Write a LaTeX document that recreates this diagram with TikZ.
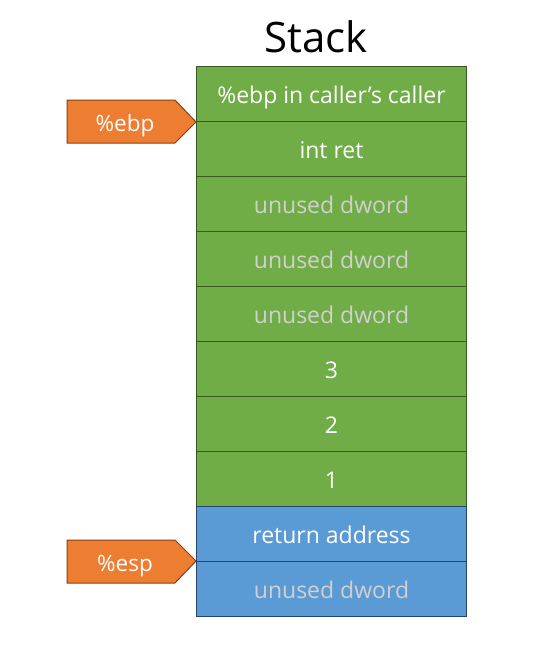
\documentclass[tikz,border=0pt]{standalone}
\usepackage{fontspec}
\setmainfont{Open Sans}
\definecolor{cgreen}{HTML}{70AD47}
\definecolor{cgreenb}{HTML}{3A5A25}
\definecolor{cblue}{HTML}{5B9BD5}
\definecolor{cblueb}{HTML}{24456A}
\definecolor{corange}{HTML}{ED7D31}
\definecolor{coranb}{HTML}{8A3F12}
\definecolor{cgrey}{HTML}{D0D0D0}
\begin{document}
\begin{tikzpicture}[x=1pt,y=-1pt,
  cell/.style={draw=cgreenb,fill=cgreen,line width=1pt,minimum width=270pt,minimum height=55pt,inner sep=0pt,anchor=north west,font=\fontsize{23}{27}\selectfont,text=white,text height=18pt,text depth=0pt},
  bcell/.style={cell,draw=cblueb,fill=cblue},
  dim/.style={text=cgrey},
  ptr/.style={draw=coranb,fill=corange,line width=1pt},
  ptrtext/.style={font=\fontsize{22.5}{27}\selectfont,text=white,anchor=base}]
\useasboundingbox (0,0) rectangle (540,645);
\node[font=\fontsize{42}{46}\selectfont,anchor=base] (title) at (316,52) {Stack};
\node[cell] (r1) at (196,66) {\%ebp in caller’s caller};
\node[cell] (r2) at (196,121) {int ret};
\node[cell,dim] (r3) at (196,176) {unused dword};
\node[cell,dim] (r4) at (196,231) {unused dword};
\node[cell,dim] (r5) at (196,286) {unused dword};
\node[cell] (r6) at (196,341) {3};
\node[cell] (r7) at (196,396) {2};
\node[cell] (r8) at (196,451) {1};
\node[bcell] (r9) at (196,506) {return address};
\node[bcell,dim] (r10) at (196,561) {unused dword};
\draw[ptr] (67,100) -- (175,100) -- (r1.south west) -- (175,143) -- (67,143) -- cycle;
\node[ptrtext] (ebp) at (125,131) {\%ebp};
\draw[ptr] (67,540) -- (175,540) -- (r10.north west) -- (175,583) -- (67,583) -- cycle;
\node[ptrtext] (esp) at (125,571) {\%esp};
\end{tikzpicture}
\end{document}
